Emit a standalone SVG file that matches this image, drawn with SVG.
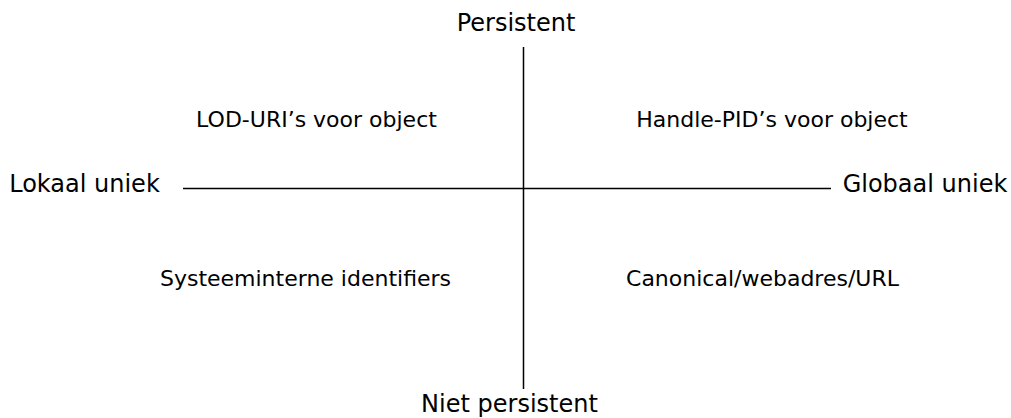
<svg xmlns="http://www.w3.org/2000/svg" width="1011" height="418" viewBox="0 0 1011 418">
<style>
text{font-family:"DejaVu Sans",Verdana,sans-serif;fill:#000;text-anchor:middle}
.axis{font-size:24px}
.q{font-size:22px}
line{stroke:#000;stroke-width:1.5}
</style>
<rect width="1011" height="418" fill="#fff"/>
<g id="connectors">
<line x1="523.5" y1="47" x2="523.5" y2="389"/>
<line x1="183" y1="188.5" x2="831" y2="188.5"/>
</g>
<g id="persistent"><text class="axis" x="516" y="31">Persistent</text></g>
<g id="niet-persistent"><text class="axis" x="509.5" y="412">Niet persistent</text></g>
<g id="lokaal-uniek"><text class="axis" x="84.5" y="192">Lokaal uniek</text></g>
<g id="globaal-uniek"><text class="axis" x="925" y="192">Globaal uniek</text></g>
<g id="lod-uri"><text class="q" x="316.5" y="127">LOD-URI’s voor object</text></g>
<g id="handle-pid"><text class="q" x="772" y="127">Handle-PID’s voor object</text></g>
<g id="systeeminterne"><text class="q" x="305.5" y="286">Systeeminterne identifiers</text></g>
<g id="canonical"><text class="q" x="762.5" y="286">Canonical/webadres/URL</text></g>
</svg>
